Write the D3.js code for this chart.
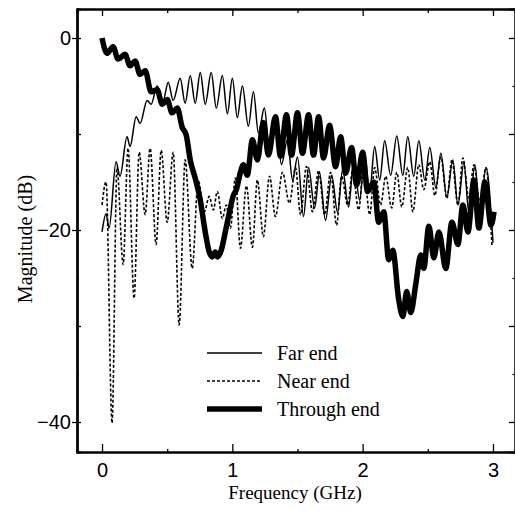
<!DOCTYPE html>
<html>
<head>
<meta charset="utf-8">
<script src="https://d3js.org/d3.v7.min.js"></script>
<style>
body { margin: 0; background: #fff; }
.tick text { font-family: "Liberation Sans", Arial, sans-serif; font-size: 20px; fill: #000; }
.serif { font-family: "Liberation Serif", "Times New Roman", serif; font-size: 19px; fill: #000; }
.legend text { font-size: 20px; }
</style>
</head>
<body>
<div id="chart"></div>
<script>
// tick values
var xTicks = [0, 1, 2, 3];
var xMinor = [0.5, 1.5, 2.5];
var yLabelTicks = [0, -20, -40];
var yTicks = [0, -10, -20, -30, -40];
var yMinor = [-5, -15, -25, -35];
var seriesNames = ["Far end", "Near end", "Through end"];

// [frequency GHz, magnitude dB]
var farEnd = [[0,-20.2],[0.031,-18.3],[0.054,-19.8],[0.108,-12.9],[0.138,-14.4],[0.192,-10.3],[0.215,-11.3],[0.262,-8.2],[0.292,-8.9],[0.346,-6.5],[0.377,-6.9],[0.423,-5.0],[0.469,-6.5],[0.508,-4.6],[0.546,-6.5],[0.6,-4.2],[0.638,-6.8],[0.677,-3.9],[0.715,-6.8],[0.754,-3.6],[0.792,-6.9],[0.838,-3.6],[0.877,-7.3],[0.923,-3.9],[0.962,-7.9],[1.0,-4.2],[1.038,-8.3],[1.077,-5.0],[1.123,-9.2],[1.162,-5.6],[1.2,-9.9],[1.246,-7.3],[1.285,-11.7],[1.338,-9.1],[1.377,-13.2],[1.423,-10.6],[1.462,-14.8],[1.5,-12.4],[1.546,-18.6],[1.585,-13.5],[1.631,-17.7],[1.669,-14.0],[1.715,-19.0],[1.762,-14.3],[1.808,-18.2],[1.846,-13.7],[1.892,-17.6],[1.931,-12.9],[1.977,-16.9],[2.015,-12.2],[2.054,-16.0],[2.092,-11.3],[2.131,-14.8],[2.169,-10.7],[2.215,-14.3],[2.262,-10.2],[2.308,-14.3],[2.346,-10.3],[2.392,-14.4],[2.431,-10.7],[2.477,-14.8],[2.515,-11.4],[2.562,-15.6],[2.6,-12.0],[2.646,-16.6],[2.692,-12.7],[2.731,-17.4],[2.777,-13.0],[2.815,-18.2],[2.862,-13.2],[2.9,-18.8],[2.946,-13.5],[3.0,-21.3]];

var nearEnd = [[0,-17.4],[0.031,-15.0],[0.077,-40.1],[0.115,-13.5],[0.162,-23.6],[0.2,-11.5],[0.246,-27.1],[0.285,-11.9],[0.331,-18.4],[0.369,-11.5],[0.415,-21.5],[0.454,-11.7],[0.5,-19.2],[0.546,-11.9],[0.592,-29.9],[0.638,-12.7],[0.692,-24.0],[0.738,-14.8],[0.785,-18.1],[0.823,-16.5],[0.854,-17.9],[0.885,-16.0],[0.923,-18.8],[0.954,-17.4],[0.985,-19.8],[1.023,-14.6],[1.062,-21.9],[1.108,-15.4],[1.154,-21.8],[1.192,-14.8],[1.238,-20.7],[1.285,-14.4],[1.331,-18.6],[1.385,-14.0],[1.438,-17.2],[1.485,-13.5],[1.523,-18.4],[1.569,-13.4],[1.615,-18.1],[1.662,-13.8],[1.708,-18.4],[1.754,-14.0],[1.8,-19.5],[1.838,-14.4],[1.885,-17.4],[1.923,-13.8],[1.969,-17.9],[2.008,-13.5],[2.054,-18.4],[2.092,-13.5],[2.138,-17.4],[2.177,-14.4],[2.223,-17.7],[2.262,-14.0],[2.3,-17.6],[2.346,-13.5],[2.385,-18.1],[2.431,-13.2],[2.469,-15.8],[2.515,-12.9],[2.554,-16.4],[2.6,-12.4],[2.646,-16.7],[2.685,-12.7],[2.731,-17.4],[2.769,-12.5],[2.815,-16.7],[2.854,-13.2],[2.9,-17.1],[2.946,-13.5],[2.992,-21.6]];

var throughEnd = [[0,0],[0.038,-1.6],[0.085,-0.9],[0.123,-2.2],[0.177,-1.7],[0.215,-2.9],[0.254,-2.4],[0.292,-3.8],[0.331,-3.4],[0.377,-5.6],[0.423,-5.4],[0.462,-6.9],[0.5,-6.4],[0.538,-7.8],[0.577,-7.3],[0.615,-9.3],[0.646,-10.1],[0.677,-12.7],[0.715,-14.6],[0.754,-16.9],[0.792,-20.2],[0.823,-22.3],[0.846,-22.8],[0.869,-22.3],[0.885,-22.8],[0.915,-22.1],[0.946,-20.2],[0.977,-18.2],[1.008,-16.4],[1.031,-15.8],[1.062,-14.0],[1.085,-13.2],[1.115,-14.3],[1.154,-10.6],[1.192,-12.7],[1.238,-8.8],[1.277,-12.2],[1.331,-8.2],[1.369,-12.3],[1.415,-8.0],[1.454,-12.2],[1.5,-7.8],[1.538,-12.0],[1.585,-8.0],[1.623,-12.2],[1.662,-8.2],[1.7,-12.5],[1.746,-9.1],[1.792,-13.4],[1.831,-10.3],[1.869,-14.1],[1.915,-11.4],[1.954,-15.3],[2.0,-11.9],[2.038,-16.0],[2.085,-15.0],[2.123,-19.2],[2.162,-18.1],[2.2,-23.1],[2.231,-22.1],[2.277,-27.3],[2.308,-29.0],[2.338,-26.4],[2.369,-28.6],[2.408,-25.6],[2.446,-22.6],[2.469,-24.0],[2.508,-19.6],[2.546,-22.9],[2.585,-20.2],[2.638,-24.0],[2.685,-19.2],[2.731,-21.5],[2.769,-17.4],[2.808,-20.2],[2.854,-14.8],[2.892,-19.8],[2.938,-15.0],[2.985,-19.5],[3.008,-18.1]];

var width = 515;
var height = 510;
var plotLeft = 77, plotRight = 515, plotTop = 9, plotBottom = 452; // "top" clashes with window.top

var svg = d3.select("#chart").append("svg")
    .attr("width", width)
    .attr("height", height);

var x = d3.scaleLinear().domain([-0.192, 3.169]).range([plotLeft, plotRight]);
var y = d3.scaleLinear().domain([-43.125, 3.02]).range([plotBottom, plotTop]);

// bottom axis, labelled ticks point up into the plot
svg.append("g").attr("transform", "translate(0," + plotBottom + ")")
    .call(d3.axisBottom(x).tickValues(xTicks).tickSizeInner(-8).tickSizeOuter(0).tickPadding(11).tickFormat(d3.format("d")));
svg.append("g").attr("transform", "translate(0," + plotBottom + ")")
    .call(d3.axisBottom(x).tickValues(xMinor).tickSize(-3).tickFormat(""));

// top border
svg.append("g").attr("transform", "translate(0," + plotTop + ")")
    .call(d3.axisTop(x).tickValues(xTicks).tickSizeInner(-7).tickSizeOuter(0).tickFormat(""));
svg.append("g").attr("transform", "translate(0," + plotTop + ")")
    .call(d3.axisTop(x).tickValues(xMinor).tickSize(-4).tickFormat(""));

// left axis
svg.append("g").attr("transform", "translate(" + plotLeft + ",0)")
    .call(d3.axisLeft(y).tickValues(yLabelTicks).tickSizeInner(5).tickSizeOuter(0).tickPadding(1)
        .tickFormat(function(d) { return d === 0 ? "0" : "\u2212" + Math.abs(d); }));
svg.append("g").attr("transform", "translate(" + plotLeft + ",0)")
    .call(d3.axisLeft(y).tickValues(yTicks).tickSize(-4).tickFormat(""));
svg.append("g").attr("transform", "translate(" + plotLeft + ",0)")
    .call(d3.axisLeft(y).tickValues(yMinor).tickSize(-2).tickFormat(""));

// right side ticks (border sits at the image edge)
svg.append("g").attr("transform", "translate(" + plotRight + ",0)")
    .call(d3.axisRight(y).tickValues(yTicks).tickSize(-6).tickFormat(""));
svg.append("g").attr("transform", "translate(" + plotRight + ",0)")
    .call(d3.axisRight(y).tickValues(yMinor).tickSize(-2.5).tickFormat(""));

svg.selectAll(".domain").attr("stroke", "#000").attr("stroke-width", 2);
svg.selectAll(".tick line").attr("stroke", "#000").attr("stroke-width", 1.3);

// axis titles
svg.append("text").attr("class", "serif")
    .attr("x", 295).attr("y", 499)
    .attr("text-anchor", "middle")
    .text("Frequency (GHz)");
svg.append("text").attr("class", "serif")
    .attr("transform", "translate(32,239) rotate(-90)")
    .attr("text-anchor", "middle")
    .style("font-size", "20px")
    .text("Magnitude (dB)");

var line = d3.line()
    .x(function(d) { return x(d[0]); })
    .y(function(d) { return y(d[1]); })
    .curve(d3.curveMonotoneX);

var styles = [
    { data: farEnd, w: 1.5, dash: null },
    { data: nearEnd, w: 1.6, dash: "3,2" },
    { data: throughEnd, w: 5.5, dash: null }
];

svg.selectAll(".series")
    .data(styles)
    .enter().append("path")
    .attr("class", "series")
    .attr("fill", "none")
    .attr("stroke", "#000")
    .attr("stroke-linejoin", "round")
    .attr("stroke-width", function(d) { return d.w; })
    .attr("stroke-dasharray", function(d) { return d.dash; })
    .attr("d", function(d) { return line(d.data); });

// legend
var legend = svg.selectAll(".legend")
    .data(styles)
    .enter().append("g")
    .attr("class", "legend")
    .attr("transform", function(d, i) { return "translate(0," + (353 + i * 28) + ")"; });

legend.append("line")
    .attr("x1", 207).attr("x2", 262)
    .attr("stroke", "#000")
    .attr("stroke-width", function(d) { return d.w; })
    .attr("stroke-dasharray", function(d) { return d.dash; });

legend.append("text").attr("class", "serif")
    .attr("x", 277).attr("dy", "0.33em")
    .text(function(d, i) { return seriesNames[i]; });
</script>
</body>
</html>
